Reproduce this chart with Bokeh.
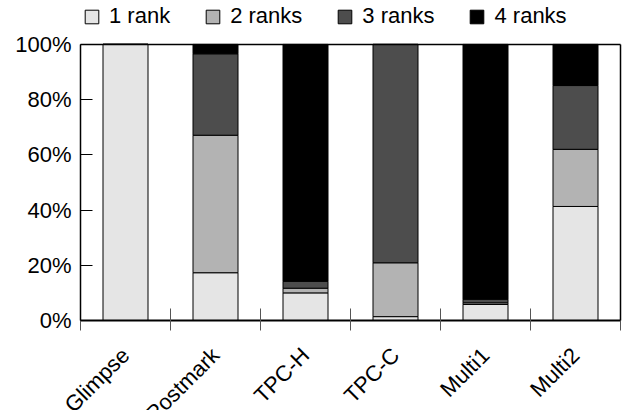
import math
from bokeh.plotting import figure
from bokeh.models import (ColumnDataSource, Range1d, FixedTicker, PrintfTickFormatter,
                          Legend, LegendItem, LinearAxis)
from bokeh.embed import file_html
from bokeh.resources import INLINE

workloads = ["Glimpse", "Postmark", "TPC-H", "TPC-C", "Multi1", "Multi2"]
rank1 = [100.0, 17.3, 10.0, 1.4, 5.8, 41.3]
rank2 = [0.0, 49.8, 1.7, 19.5, 0.6, 20.7]
rank3 = [0.0, 29.5, 2.5, 79.1, 1.3, 23.1]
rank4 = [0.0, 3.4, 85.8, 0.0, 92.3, 14.9]
series_names = ["1 rank", "2 ranks", "3 ranks", "4 ranks"]
colors = ["#e5e5e5", "#b3b3b3", "#4d4d4d", "#000000"]
y_ticks = [0, 20, 40, 60, 80, 100]

FONT = "Liberation Sans"
FS = "22px"

n = len(workloads)
xpos = [i + 0.5 for i in range(n)]
src = ColumnDataSource(dict(x=xpos, r1=rank1, r2=rank2, r3=rank3, r4=rank4))

# the frame covers the whole canvas; the data box (0..n, 0..100) sits where the reference has it
p = figure(width=622, height=410, output_backend="svg", toolbar_location=None,
           x_range=Range1d(-80 / 90, n + 2 / 90), y_range=Range1d(-32.6, 115.9),
           x_axis_type=None, y_axis_type=None,
           min_border_left=0, min_border_right=0, min_border_top=0, min_border_bottom=0)
p.grid.visible = False
p.outline_line_color = None

rs = p.vbar_stack(["r1", "r2", "r3", "r4"], x="x", width=0.5, color=colors,
                  line_color="black", line_width=1, source=src)

# bottom axis line with ticks at category boundaries
xa = LinearAxis(fixed_location=0, bounds=(0, n),
                ticker=FixedTicker(ticks=list(range(n + 1)), minor_ticks=[]),
                major_tick_in=12, major_tick_out=10, major_tick_line_color="#555555",
                major_label_text_font_size="0px", major_label_standoff=0,
                axis_line_color="black", axis_line_width=2)
p.add_layout(xa, "below")

# category names, rotated, under the bar centres
xl = LinearAxis(fixed_location=0, ticker=FixedTicker(ticks=xpos, minor_ticks=[]),
                major_label_overrides={x: w for x, w in zip(xpos, workloads)},
                major_label_orientation=math.radians(45),
                major_tick_in=0, major_tick_out=0, major_tick_line_color=None,
                axis_line_color=None, major_label_standoff=31,
                major_label_text_font=FONT, major_label_text_font_size=FS,
                major_label_text_color="black")
p.add_layout(xl, "below")

# top border
xt = LinearAxis(fixed_location=100, bounds=(0, n), ticker=FixedTicker(ticks=[], minor_ticks=[]),
                major_tick_in=0, major_tick_out=0, major_label_text_font_size="0px",
                axis_line_color="black", axis_line_width=1.5)
p.add_layout(xt, "above")

# left axis
ya = LinearAxis(fixed_location=0, bounds=(0, 100),
                ticker=FixedTicker(ticks=y_ticks, minor_ticks=[]),
                formatter=PrintfTickFormatter(format="%d%%"),
                major_tick_in=12, major_tick_out=0, major_tick_line_color="black",
                major_label_standoff=9, major_label_text_font=FONT,
                major_label_text_font_size=FS, major_label_text_color="black",
                axis_line_color="black", axis_line_width=1.5)
p.add_layout(ya, "left")

# right border
yr = LinearAxis(fixed_location=n, bounds=(0, 100), ticker=FixedTicker(ticks=[], minor_ticks=[]),
                major_tick_in=0, major_tick_out=0, major_label_text_font_size="0px",
                axis_line_color="black", axis_line_width=1.5)
p.add_layout(yr, "right")

legend = Legend(items=[LegendItem(label=s, renderers=[r]) for s, r in zip(series_names, rs)],
                orientation="horizontal", location=(83, 381),
                glyph_width=17, glyph_height=17, label_standoff=9, spacing=34,
                padding=0, margin=0, border_line_color=None, background_fill_alpha=0,
                label_text_font=FONT, label_text_font_size=FS, label_text_color="black")
p.add_layout(legend)

open("out.html", "w").write(file_html(p, INLINE))
